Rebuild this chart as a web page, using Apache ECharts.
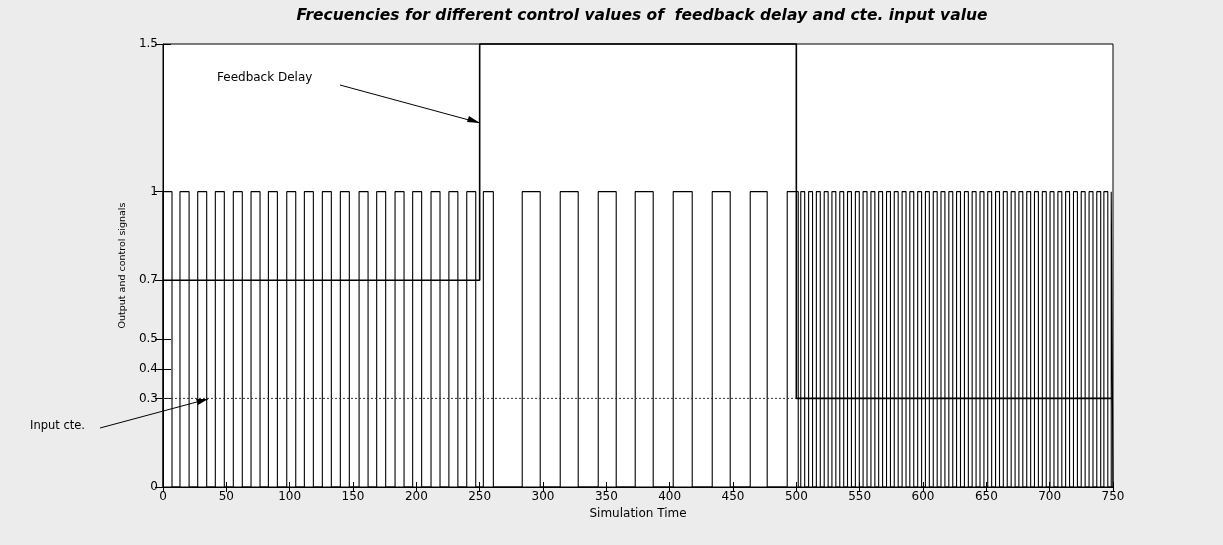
<!DOCTYPE html>
<html>
<head>
<meta charset="utf-8">
<script src="https://cdn.jsdelivr.net/npm/echarts@6/dist/echarts.min.js"></script>
<style>
  html, body { margin: 0; padding: 0; background: #ececec; }
  #chart { width: 1223px; height: 545px; }
</style>
</head>
<body>
<div id="chart"></div>
<script>
  // output pulse train (0 / 1): rising and falling edge times
  var outRise = [0, 13.4, 27.4, 41.3, 55.5, 69.5, 83.2, 97.7, 111.6, 125.8, 140.0, 154.8, 168.7, 183.2, 197.1, 211.6, 225.7, 239.8, 252.9,
    283.6, 313.6, 343.6, 372.8, 402.8, 433.6, 463.6, 492.8,
    503.5, 509.7, 515.8, 522.0, 528.1, 534.3, 540.4, 546.6, 552.7, 558.9, 565.0, 571.2, 577.3, 583.5, 589.6, 595.8, 601.9, 608.1,
    614.2, 620.4, 626.5, 632.7, 638.8, 645.0, 651.1, 657.3, 663.4, 669.6, 675.7, 681.9, 688.0, 694.2, 700.3, 706.5, 712.6, 718.8,
    724.9, 731.1, 737.2, 742.8, 748.6];
  var outFall = [7.1, 20.6, 34.5, 48.4, 62.6, 76.6, 90.3, 104.8, 118.7, 132.9, 147.1, 161.9, 175.8, 190.3, 204.2, 218.7, 232.8, 246.9, 260.8,
    297.8, 327.8, 357.8, 387.0, 417.8, 447.8, 477.0, 501.5,
    506.6, 512.8, 518.9, 525.1, 531.2, 537.4, 543.5, 549.7, 555.8, 562.0, 568.1, 574.3, 580.4, 586.6, 592.7, 598.9, 605.0, 611.2,
    617.3, 623.5, 629.6, 635.8, 641.9, 648.1, 654.2, 660.4, 666.5, 672.7, 678.8, 685.0, 691.1, 697.3, 703.4, 709.6, 715.7, 721.9,
    728.0, 734.2, 740.3, 745.9, 750];

  // feedback delay control signal
  var delayBreaks = [0, 250, 500, 750];
  var delayLevels = [0.7, 1.5, 0.3];

  // constant input
  var inputTime = [0, 750];
  var inputValue = [0.3, 0.3];

  var yTicks = [0, 0.3, 0.4, 0.5, 0.7, 1, 1.5];

  var outData = [];
  for (var i = 0; i < outRise.length; i++) {
    outData.push([outRise[i], 0], [outRise[i], 1], [outFall[i], 1], [outFall[i], 0]);
  }
  var delayData = [];
  for (var j = 0; j < delayLevels.length; j++) {
    delayData.push([delayBreaks[j], delayLevels[j]], [delayBreaks[j + 1], delayLevels[j]]);
  }
  var inputData = inputTime.map(function (t, k) { return [t, inputValue[k]]; });

  var chart = echarts.init(document.getElementById('chart'));
  var font = 'DejaVu Sans, Verdana, sans-serif';

  chart.setOption({
    animation: false,
    backgroundColor: '#ececec',
    title: {
      text: 'Frecuencies for different control values of  feedback delay and cte. input value',
      left: 637, top: 3, textAlign: 'center',
      textStyle: { fontFamily: font, fontSize: 15.5, fontWeight: 'bold', fontStyle: 'italic', color: '#000' }
    },
    grid: {
      left: 163, right: 110, top: 44, bottom: 58,
      show: true, backgroundColor: '#fff', borderColor: '#000', borderWidth: 1
    },
    xAxis: [{
      type: 'value', min: 0, max: 750, interval: 50,
      name: 'Simulation Time', nameLocation: 'middle', nameGap: 17,
      nameTextStyle: { fontFamily: font, fontSize: 12, color: '#000' },
      axisLine: { lineStyle: { color: '#000' } },
      axisTick: { inside: true, length: 5, lineStyle: { color: '#000' } },
      axisLabel: { fontFamily: font, fontSize: 12, color: '#000', margin: 4 },
      splitLine: { show: false }
    }, {
      type: 'value', min: 0, max: 750, interval: 50, position: 'top',
      axisLine: { show: false },
      axisTick: { inside: true, length: 5, lineStyle: { color: '#000' } },
      axisLabel: { show: false },
      splitLine: { show: false }
    }],
    yAxis: [{
      type: 'value', min: 0, max: 1.5,
      name: 'Output and control signals', nameLocation: 'middle', nameGap: 33,
      nameTextStyle: { fontFamily: font, fontSize: 9.5, color: '#000' },
      axisLine: { show: true, lineStyle: { color: '#000' } },
      axisTick: { inside: true, length: 8, customValues: yTicks, lineStyle: { color: '#000' } },
      axisLabel: { fontFamily: font, fontSize: 12, color: '#000', margin: 5, customValues: yTicks },
      splitLine: { show: false }
    }, {
      type: 'value', min: 0, max: 1.5, position: 'right',
      axisLine: { show: false },
      axisTick: { show: true, inside: true, length: 8, customValues: yTicks, lineStyle: { color: '#000' } },
      axisLabel: { show: false },
      splitLine: { show: false }
    }],
    series: [{
      name: 'Output', type: 'line', data: outData, showSymbol: false, symbol: 'none',
      lineStyle: { color: '#000', width: 1.1 }, z: 2
    }, {
      name: 'Input cte.', type: 'line', data: inputData, showSymbol: false, symbol: 'none',
      lineStyle: { color: '#333', width: 1, type: [2, 2] }, z: 3
    }, {
      name: 'Feedback Delay', type: 'line', data: delayData, showSymbol: false, symbol: 'none',
      lineStyle: { color: '#000', width: 1.6 }, z: 4, clip: false
    }],
    graphic: [
      { type: 'text', left: 217, top: 72, style: { text: 'Feedback Delay', fontFamily: font, fontSize: 12, fill: '#000' } },
      { type: 'line', shape: { x1: 340, y1: 85, x2: 480, y2: 123 }, style: { stroke: '#000', lineWidth: 1 } },
      { type: 'polygon', shape: { points: [[480, 123], [469, 116], [467, 122]] }, style: { fill: '#000' } },
      { type: 'text', left: 30, top: 420, style: { text: 'Input cte.', fontFamily: font, fontSize: 11.5, fill: '#000' } },
      { type: 'line', shape: { x1: 100, y1: 428, x2: 208, y2: 399 }, style: { stroke: '#000', lineWidth: 1 } },
      { type: 'polygon', shape: { points: [[208, 399], [196, 399], [198, 405]] }, style: { fill: '#000' } }
    ]
  });
</script>
</body>
</html>
